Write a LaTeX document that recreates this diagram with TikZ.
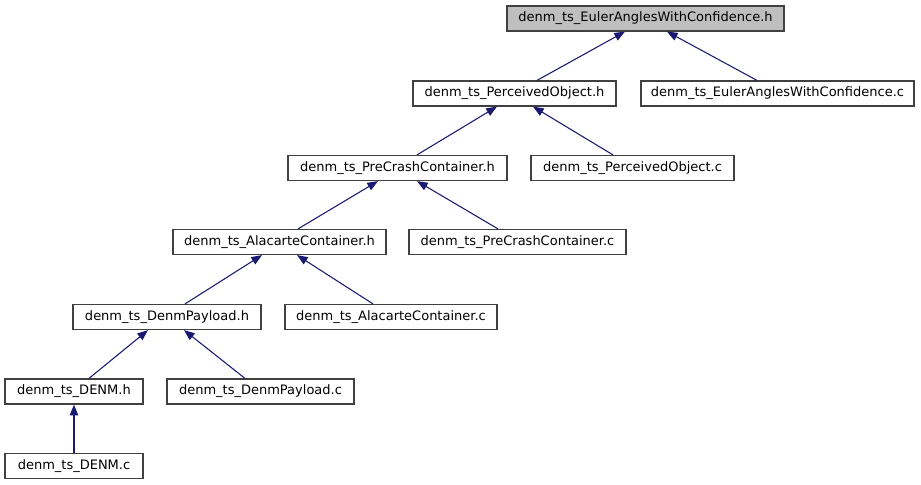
\documentclass[tikz,border=0pt]{standalone}
\usepackage{fontspec}
\setmainfont{DejaVu Sans}
\usetikzlibrary{arrows.meta}
\definecolor{edgeblue}{HTML}{191970}
\definecolor{boxgray}{HTML}{404040}
\definecolor{fillgray}{HTML}{BFBFBF}
\tikzset{
  file/.style={draw=boxgray, line width=0.9pt, rectangle, inner sep=0pt,
    minimum height=25*0.75pt, font=\fontsize{9.75}{11.7}\selectfont, fill=white},
  edge/.style={draw=edgeblue, line width=0.8pt,
    {Triangle[length=8pt,width=6.2pt]}-}
}
\begin{document}
\begin{tikzpicture}[x=0.75pt,y=-0.75pt]
\useasboundingbox (0,0) rectangle (921,485);
\node[file, fill=fillgray, minimum width=277*0.75pt] (eah) at (645.5,18.5) {denm\_ts\_EulerAnglesWithConfidence.h};
\node[file, minimum width=203*0.75pt] (poh) at (514.5,93.5) {denm\_ts\_PerceivedObject.h};
\node[file, minimum width=273*0.75pt] (eac) at (777.5,93.5) {denm\_ts\_EulerAnglesWithConfidence.c};
\node[file, minimum width=219*0.75pt] (pch) at (397.5,168) {denm\_ts\_PreCrashContainer.h};
\node[file, minimum width=203*0.75pt] (poc) at (632.5,168) {denm\_ts\_PerceivedObject.c};
\node[file, minimum width=213*0.75pt] (ach) at (279.5,242) {denm\_ts\_AlacarteContainer.h};
\node[file, minimum width=217*0.75pt] (pcc) at (517.5,242) {denm\_ts\_PreCrashContainer.c};
\node[file, minimum width=188*0.75pt] (dph) at (167,317) {denm\_ts\_DenmPayload.h};
\node[file, minimum width=212*0.75pt] (acc) at (391,317) {denm\_ts\_AlacarteContainer.c};
\node[file, minimum width=138*0.75pt] (dnh) at (74,391.5) {denm\_ts\_DENM.h};
\node[file, minimum width=187*0.75pt] (dpc) at (260.5,391.5) {denm\_ts\_DenmPayload.c};
\node[file, minimum width=138*0.75pt] (dnc) at (74,466) {denm\_ts\_DENM.c};

\draw[edge] ([xshift=-20.5*0.75pt]eah.south) -- ([xshift=22.5*0.75pt]poh.north);
\draw[edge] ([xshift=21.5*0.75pt]eah.south) -- ([xshift=-20.5*0.75pt]eac.north);
\draw[edge] ([xshift=-17.5*0.75pt]poh.south) -- ([xshift=19.5*0.75pt]pch.north);
\draw[edge] ([xshift=18.5*0.75pt]poh.south) -- ([xshift=-19.5*0.75pt]poc.north);
\draw[edge] ([xshift=-19.5*0.75pt]pch.south) -- ([xshift=18.5*0.75pt]ach.north);
\draw[edge] ([xshift=19.5*0.75pt]pch.south) -- ([xshift=-19.5*0.75pt]pcc.north);
\draw[edge] ([xshift=-17.5*0.75pt]ach.south) -- ([xshift=18*0.75pt]dph.north);
\draw[edge] ([xshift=17.5*0.75pt]ach.south) -- ([xshift=-18*0.75pt]acc.north);
\draw[edge] ([xshift=-19*0.75pt]dph.south) -- ([xshift=15*0.75pt]dnh.north);
\draw[edge] ([xshift=17*0.75pt]dph.south) -- ([xshift=-15.5*0.75pt]dpc.north);
\draw[edge] (dnh.south) -- (dnc.north);
\end{tikzpicture}
\end{document}
